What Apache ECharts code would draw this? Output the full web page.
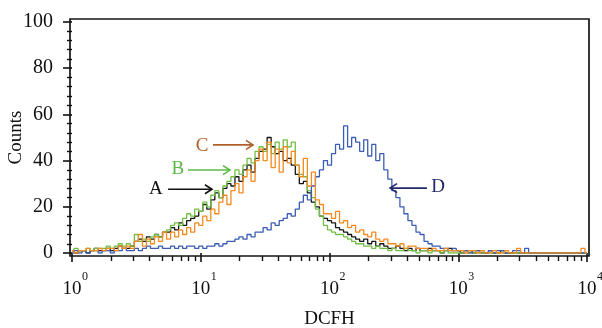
<!DOCTYPE html>
<html>
<head>
<meta charset="utf-8">
<script src="https://cdn.jsdelivr.net/npm/echarts@6/dist/echarts.min.js"></script>
<style>
  html, body { margin: 0; background: #fff; }
  #chart { width: 602px; height: 328px; }
</style>
</head>
<body>
<div id="chart"></div>
<script>
// histogram channels: 32 per decade, x given in log10(DCFH)
const PER_DECADE = 32;
const decades = [0, 1, 2, 3, 4];

// counts per channel
const countsA = [
  1, 0, 1, 1, 0, 1, 2, 1,
  1, 2, 1, 2, 3, 2, 2, 3,
  5, 6, 5, 7, 6, 8, 7, 9,
  9, 11, 10, 13, 12, 14, 15, 16,
  18, 21, 19, 23, 26, 24, 28, 30,
  29, 33, 31, 36, 38, 35, 41, 44,
  45, 50, 46, 43, 44, 40, 41, 38,
  34, 30, 31, 26, 22, 20, 16, 15,
  14, 13, 11, 10, 9, 8, 7, 6,
  5, 6, 4, 5, 3, 4, 3, 2,
  2, 3, 2, 1, 2, 1, 2, 1,
  1, 2, 1, 1, 0, 1, 2, 1,
  1, 0, 1, 1, 0, 1, 0, 0,
  1, 0, 0, 1, 0, 0, 0, 0,
  0, 0, 0, 0, 0, 0, 0, 0,
  0, 0, 0, 0, 0, 0, 0, 0,
  0
];
const countsB = [
  1, 2, 1, 1, 2, 1, 2, 2,
  2, 3, 2, 3, 4, 3, 4, 3,
  8, 5, 6, 5, 7, 8, 7, 9,
  10, 12, 13, 12, 15, 17, 16, 19,
  18, 22, 20, 25, 27, 24, 29, 31,
  33, 36, 34, 38, 41, 39, 44, 46,
  44, 47, 43, 48, 45, 49, 46, 48,
  38, 34, 33, 27, 24, 19, 16, 12,
  10, 9, 8, 8, 7, 6, 5, 4,
  4, 3, 3, 2, 3, 2, 2, 1,
  2, 1, 1, 2, 1, 1, 0, 1,
  1, 0, 1, 1, 0, 1, 0, 0,
  0, 0, 0, 0, 0, 0, 0, 0,
  0, 0, 0, 0, 0, 0, 0, 0,
  0, 0, 0, 0, 0, 0, 0, 0,
  0, 0, 0, 0, 0, 0, 0, 0,
  0
];
const countsC = [
  1, 0, 1, 1, 2, 1, 1, 2,
  1, 2, 2, 1, 3, 2, 3, 2,
  5, 8, 3, 6, 4, 7, 5, 9,
  6, 9, 7, 10, 8, 11, 9, 13,
  12, 16, 14, 19, 17, 22, 25, 21,
  27, 30, 26, 33, 36, 31, 40, 45,
  40, 48, 37, 45, 35, 46, 39, 44,
  38, 33, 41, 29, 35, 23, 21, 17,
  17, 15, 18, 13, 14, 11, 12, 9,
  10, 8, 7, 9, 6, 5, 6, 4,
  4, 3, 4, 2, 3, 3, 2, 2,
  2, 1, 2, 1, 1, 2, 1, 1,
  1, 1, 0, 1, 1, 0, 1, 0,
  0, 1, 0, 0, 1, 0, 0, 2,
  0, 0, 0, 0, 0, 0, 0, 0,
  0, 0, 0, 0, 0, 0, 0, 2,
  0
];
const countsD = [
  0, 1, 0, 1, 0, 1, 1, 0,
  1, 1, 0, 1, 1, 2, 1, 1,
  2, 1, 2, 3, 2, 2, 3, 2,
  2, 3, 2, 3, 2, 3, 3, 2,
  3, 2, 3, 3, 4, 3, 4, 5,
  5, 6, 7, 6, 8, 7, 9, 9,
  11, 10, 13, 12, 14, 15, 17, 16,
  19, 22, 25, 23, 29, 33, 36, 40,
  38, 43, 47, 45, 55, 46, 50, 48,
  44, 49, 42, 47, 40, 43, 36, 32,
  27, 24, 20, 17, 14, 12, 9, 8,
  5, 4, 3, 3, 2, 2, 1, 2,
  1, 1, 1, 0, 1, 1, 1, 0,
  1, 0, 1, 1, 0, 0, 1, 1,
  0, 2, 0, 0, 0, 0, 0, 0,
  0, 0, 0, 0, 0, 0, 0, 0,
  0
];

const names = ['A', 'B', 'C', 'D'];
const lineColors = ['#141414', '#72c043', '#f58a1f', '#3b5cb4'];
const tagColors = ['#111111', '#5cb947', '#b0602c', '#23286a'];

// annotation placement in data units [log10 x, count]
const tagAt = [[0.652, 27.7], [0.823, 36.4], [1.01, 46.3], [2.843, 28.6]];
const arrowFrom = [[0.746, 27.6], [0.901, 35.9], [1.095, 46.8], [2.757, 28.1]];
const arrowTo = [[1.087, 27.6], [1.227, 35.9], [1.406, 46.8], [2.47, 28.1]];

const serif = '"Liberation Serif", "DejaVu Serif", serif';
const minorX = [];
for (let n = 0; n < 4; n++) for (let m = 2; m <= 9; m++) minorX.push(n + Math.log10(m));

const chart = echarts.init(document.getElementById('chart'), null, { renderer: 'canvas' });

function toPoints(arr) { return arr.map((v, k) => [k / PER_DECADE, v]); }

// x axis split in three: decade ticks + "10", minor ticks, exponents
const xBase = { type: 'value', min: 0, max: 4, interval: 1, offset: 3, position: 'bottom',
                axisLine: { show: false }, splitLine: { show: false } };

const order = [0, 1, 3, 2];
chart.setOption({
  animation: false,
  grid: { left: 72, right: 15, top: 22, bottom: 75, containLabel: false, outerBoundsMode: 'none' },
  xAxis: [Object.assign({}, xBase, {
    axisTick: { length: 9, lineStyle: { color: '#111', width: 1.6 } },
    axisLabel: { margin: 24, formatter: () => '10', fontFamily: serif, fontSize: 19, color: '#111' },
    name: 'DCFH', nameLocation: 'middle', nameGap: 54, nameMoveOverlap: false,
    nameTextStyle: { fontFamily: serif, fontSize: 19, color: '#111' }
  }), Object.assign({}, xBase, {
    axisLabel: { show: false },
    axisTick: { length: 5, customValues: minorX, lineStyle: { color: '#111', width: 1.4 } }
  }), Object.assign({}, xBase, {
    axisTick: { show: false },
    axisLabel: { margin: 15, fontFamily: serif, fontSize: 12, color: '#111',
                 padding: [0, 0, 0, 26], formatter: v => String(decades[v]) }
  })],
  yAxis: {
    type: 'value', min: 0, max: 100, interval: 20, offset: 2,
    axisLine: { show: false },
    axisTick: { length: 9, lineStyle: { color: '#111', width: 1.6 } },
    minorTick: { show: true, splitNumber: 5, length: 5, lineStyle: { color: '#111', width: 1.4 } },
    splitLine: { show: false },
    axisLabel: { margin: 17, fontFamily: serif, fontSize: 20, color: '#111' },
    name: 'Counts', nameLocation: 'middle', nameGap: 44, nameRotate: 90, nameMoveOverlap: false,
    nameTextStyle: { fontFamily: serif, fontSize: 19, color: '#111' }
  },
  series: order.map(i => ({
    name: names[i], type: 'line', step: 'middle', showSymbol: false,
    data: toPoints([countsA, countsB, countsC, countsD][i]),
    lineStyle: { color: lineColors[i], width: 1.3 },
    itemStyle: { color: lineColors[i] }
  }))
});

// frame and annotations, placed through the grid's coordinate system
const px = p => chart.convertToPixel({ gridIndex: 0 }, p);
const tl = px([0, 100]), br = px([4, 0]);
const graphic = [{
  type: 'rect', silent: true, z: 10,
  shape: { x: tl[0] - 2, y: tl[1] - 3, width: br[0] - tl[0] + 4, height: br[1] - tl[1] + 6 },
  style: { fill: 'none', stroke: '#151515', lineWidth: 1.7 }
}];
names.forEach((n, i) => {
  const t = px(tagAt[i]), a = px(arrowFrom[i]), b = px(arrowTo[i]);
  const dir = b[0] > a[0] ? 1 : -1;
  graphic.push({
    type: 'text', z: 20,
    style: { text: n, x: t[0], y: t[1], align: 'center', verticalAlign: 'middle',
             font: '19px ' + serif, fill: tagColors[i] }
  });
  graphic.push({
    type: 'line', z: 20,
    shape: { x1: a[0], y1: a[1], x2: b[0], y2: b[1] },
    style: { stroke: tagColors[i], lineWidth: 1.6 }
  });
  graphic.push({
    type: 'polyline', z: 20,
    shape: { points: [[b[0] - dir * 7, b[1] - 4.5], [b[0], b[1]], [b[0] - dir * 7, b[1] + 4.5]] },
    style: { stroke: tagColors[i], lineWidth: 1.6, fill: 'none' }
  });
});
chart.setOption({ graphic: graphic });
</script>
</body>
</html>
